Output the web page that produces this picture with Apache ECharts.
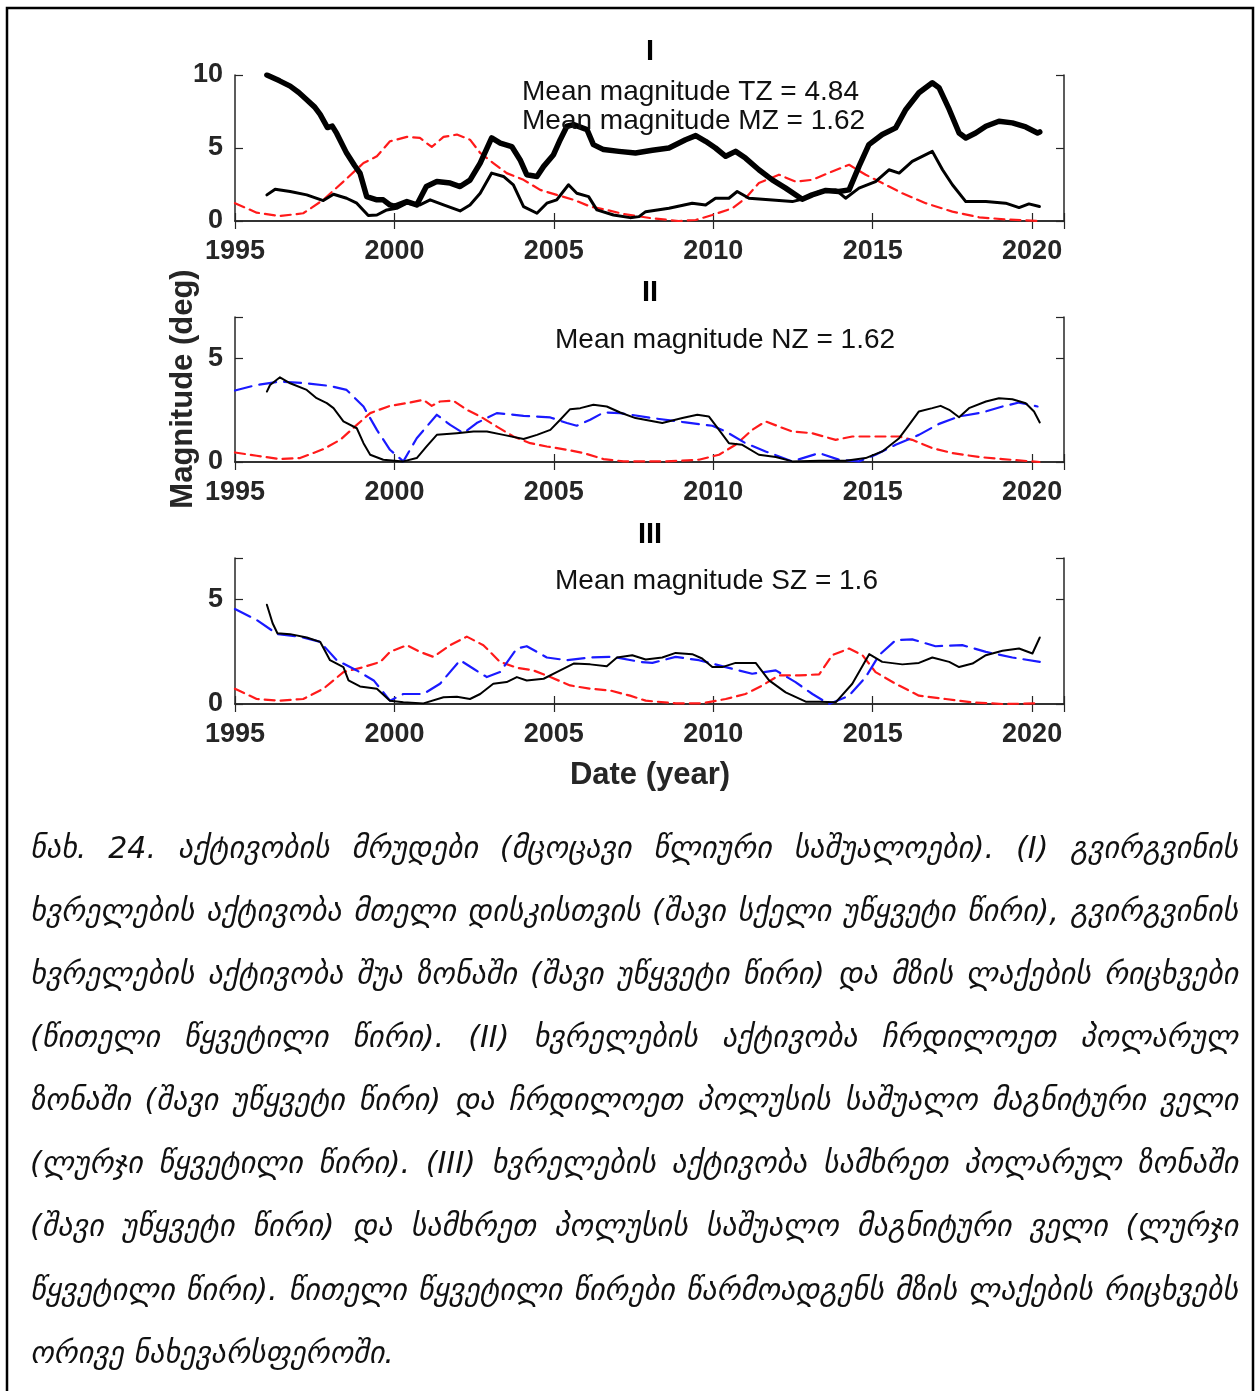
<!DOCTYPE html>
<html>
<head>
<meta charset="utf-8">
<script src="https://cdn.jsdelivr.net/npm/echarts@6/dist/echarts.min.js"></script>
<style>
html,body{margin:0;padding:0;background:#fff;}
#chart{width:1255px;height:1391px;}
</style>
</head>
<body>
<div id="chart"></div>
<script>
// ---------- DATA ----------
const xTicks = [1995, 2000, 2005, 2010, 2015, 2020];
const panelTitles = ['I', 'II', 'III'];

// Panel I: coronal hole activity, total disk (thick), middle zone (thin), sunspots (red dashed)
const p1_TZ = [[1996.0,10.0],[1996.4,9.6],[1996.73,9.24],[1997.0,8.8],[1997.25,8.3],[1997.5,7.8],[1997.67,7.3],[1997.9,6.4],[1998.05,6.5],[1998.19,6.0],[1998.5,4.65],[1998.75,3.8],[1998.92,3.28],[1999.13,1.67],[1999.45,1.45],[1999.65,1.45],[1999.86,1.1],[2000.0,1.0],[2000.39,1.33],[2000.7,1.1],[2001.0,2.36],[2001.33,2.7],[2001.75,2.6],[2002.06,2.36],[2002.37,2.8],[2002.69,3.97],[2003.05,5.69],[2003.32,5.34],[2003.68,5.1],[2003.94,4.2],[2004.15,3.17],[2004.47,3.05],[2004.68,3.74],[2004.99,4.54],[2005.2,5.57],[2005.41,6.49],[2005.62,6.6],[2006.04,6.26],[2006.24,5.23],[2006.56,4.89],[2007.04,4.77],[2007.56,4.66],[2008.09,4.84],[2008.61,5.0],[2009.13,5.57],[2009.45,5.85],[2009.76,5.46],[2010.07,5.0],[2010.39,4.43],[2010.7,4.77],[2011.01,4.31],[2011.43,3.51],[2011.85,2.82],[2012.27,2.25],[2012.79,1.49],[2013.1,1.79],[2013.53,2.09],[2013.94,2.02],[2014.26,2.13],[2014.57,3.74],[2014.88,5.23],[2015.3,5.92],[2015.72,6.38],[2016.04,7.64],[2016.45,8.78],[2016.87,9.47],[2017.08,9.13],[2017.4,7.64],[2017.71,6.03],[2017.92,5.69],[2018.23,6.03],[2018.55,6.49],[2018.96,6.83],[2019.38,6.72],[2019.8,6.44],[2020.17,6.03],[2020.24,6.1]];
const p1_MZ = [[1996.0,1.79],[1996.26,2.18],[1996.73,2.02],[1997.25,1.79],[1997.77,1.4],[1998.09,1.83],[1998.5,1.56],[1998.82,1.22],[1999.18,0.37],[1999.45,0.41],[1999.76,0.76],[2000.07,0.87],[2000.39,1.22],[2000.8,1.1],[2001.12,1.45],[2001.54,1.1],[2002.06,0.69],[2002.37,1.1],[2002.69,1.9],[2003.05,3.28],[2003.42,3.05],[2003.73,2.48],[2004.05,0.99],[2004.47,0.53],[2004.78,1.22],[2005.09,1.45],[2005.46,2.48],[2005.72,1.9],[2006.09,1.67],[2006.35,0.76],[2006.87,0.41],[2007.39,0.23],[2007.67,0.3],[2007.88,0.64],[2008.61,0.87],[2009.34,1.22],[2009.76,1.1],[2010.07,1.56],[2010.49,1.56],[2010.75,2.02],[2011.12,1.56],[2011.75,1.45],[2012.48,1.33],[2012.9,1.56],[2013.32,2.02],[2013.84,2.13],[2014.15,1.56],[2014.57,2.25],[2015.09,2.7],[2015.51,3.51],[2015.83,3.28],[2016.24,4.08],[2016.87,4.77],[2017.19,3.51],[2017.5,2.48],[2017.92,1.33],[2018.55,1.33],[2019.17,1.22],[2019.59,0.92],[2019.9,1.17],[2020.23,0.99]];
const p1_SS = [[1995.0,1.22],[1995.68,0.57],[1996.41,0.34],[1997.14,0.53],[1997.77,1.45],[1998.4,2.7],[1999.03,3.97],[1999.45,4.43],[1999.86,5.46],[2000.39,5.76],[2000.8,5.69],[2001.17,5.07],[2001.54,5.76],[2001.96,5.92],[2002.37,5.57],[2002.69,4.66],[2003.1,3.97],[2003.52,3.28],[2004.05,2.82],[2004.57,2.13],[2005.09,1.79],[2005.62,1.45],[2006.14,0.99],[2006.66,0.76],[2007.19,0.48],[2008.09,0.18],[2008.92,0.0],[2009.45,0.07],[2009.97,0.41],[2010.6,0.87],[2011.01,1.56],[2011.43,2.6],[2012.06,3.17],[2012.58,2.7],[2013.1,2.82],[2013.73,3.39],[2014.26,3.85],[2014.78,3.17],[2015.3,2.6],[2015.93,1.9],[2016.66,1.22],[2017.5,0.64],[2018.34,0.25],[2019.17,0.11],[2020.23,0.0]];

// Panel II: north polar zone activity (black), north pole field (blue dashed), sunspots (red dashed)
const p2_NZ = [[1996.0,3.4],[1996.1,3.72],[1996.41,4.09],[1996.73,3.8],[1997.25,3.48],[1997.56,3.08],[1997.88,2.84],[1998.09,2.6],[1998.4,1.96],[1998.82,1.63],[1999.03,0.91],[1999.24,0.35],[1999.65,0.11],[2000.28,0.03],[2000.7,0.19],[2001.01,0.75],[2001.33,1.31],[2001.96,1.39],[2002.48,1.47],[2002.9,1.47],[2003.42,1.31],[2004.05,1.11],[2004.47,1.31],[2004.89,1.55],[2005.2,2.04],[2005.51,2.55],[2005.83,2.6],[2006.24,2.76],[2006.66,2.68],[2007.08,2.39],[2007.56,2.12],[2008.4,1.88],[2009.03,2.12],[2009.5,2.28],[2009.86,2.2],[2010.18,1.55],[2010.49,0.91],[2010.91,0.83],[2011.43,0.35],[2011.96,0.24],[2012.48,0.03],[2013.32,0.06],[2014.15,0.06],[2014.78,0.19],[2015.3,0.51],[2015.83,1.15],[2016.14,1.79],[2016.45,2.44],[2016.87,2.6],[2017.13,2.71],[2017.4,2.52],[2017.71,2.16],[2018.02,2.6],[2018.55,2.92],[2018.96,3.08],[2019.38,3.03],[2019.8,2.84],[2020.06,2.44],[2020.24,1.91]];
const p2_BN = [[1995.0,3.45],[1995.68,3.72],[1996.41,3.88],[1997.25,3.8],[1997.98,3.67],[1998.5,3.48],[1999.03,2.68],[1999.45,1.55],[1999.86,0.59],[2000.28,0.03],[2000.7,1.15],[2001.33,2.28],[2001.75,1.79],[2002.17,1.39],[2002.58,1.88],[2003.21,2.36],[2004.05,2.23],[2004.89,2.15],[2005.41,1.88],[2005.72,1.75],[2006.14,2.04],[2006.56,2.39],[2007.08,2.36],[2008.09,2.12],[2009.13,1.91],[2009.97,1.75],[2010.39,1.47],[2011.01,0.91],[2011.64,0.51],[2012.48,0.03],[2013.32,0.43],[2013.94,0.11],[2014.57,0.03],[2015.09,0.35],[2015.72,0.83],[2016.45,1.31],[2017.08,1.84],[2017.71,2.2],[2018.44,2.39],[2019.07,2.68],[2019.59,2.87],[2020.17,2.68]];
const p2_SS = [[1995.0,0.46],[1995.68,0.3],[1996.41,0.14],[1997.04,0.19],[1997.77,0.62],[1998.3,1.07],[1998.82,1.79],[1999.24,2.36],[1999.86,2.71],[2000.49,2.87],[2000.91,3.0],[2001.17,2.71],[2001.43,2.92],[2001.85,2.96],[2002.27,2.52],[2002.69,2.2],[2003.21,1.71],[2003.73,1.23],[2004.26,0.91],[2004.78,0.75],[2005.41,0.59],[2005.93,0.43],[2006.56,0.14],[2007.19,0.03],[2008.5,0.03],[2009.55,0.11],[2010.18,0.35],[2010.7,0.83],[2011.22,1.55],[2011.64,1.96],[2012.06,1.71],[2012.48,1.47],[2013.1,1.39],[2013.84,1.07],[2014.36,1.23],[2014.99,1.23],[2015.83,1.23],[2016.24,1.07],[2016.87,0.67],[2017.5,0.43],[2018.34,0.24],[2019.07,0.14],[2020.23,0.0]];

// Panel III: south polar zone activity (black), south pole field (blue dashed), sunspots (red dashed)
const p3_SZ = [[1996.0,4.76],[1996.18,3.87],[1996.33,3.39],[1996.73,3.35],[1997.25,3.19],[1997.67,2.98],[1997.98,2.1],[1998.4,1.77],[1998.56,1.13],[1998.92,0.84],[1999.45,0.73],[1999.86,0.16],[2000.28,0.08],[2000.91,0.03],[2001.54,0.32],[2001.96,0.35],[2002.37,0.24],[2002.69,0.48],[2003.1,0.97],[2003.52,1.05],[2003.84,1.29],[2004.15,1.13],[2004.68,1.21],[2005.09,1.53],[2005.62,1.94],[2006.14,1.9],[2006.66,1.81],[2006.98,2.23],[2007.46,2.34],[2007.88,2.13],[2008.4,2.23],[2008.82,2.45],[2009.34,2.39],[2009.65,2.18],[2009.97,1.77],[2010.28,1.77],[2010.7,1.97],[2011.33,1.97],[2011.75,1.13],[2012.27,0.56],[2012.9,0.11],[2013.32,0.11],[2013.84,0.08],[2014.36,0.97],[2014.89,2.39],[2015.3,2.02],[2015.93,1.9],[2016.45,1.97],[2016.87,2.23],[2017.4,2.02],[2017.71,1.77],[2018.13,1.94],[2018.55,2.34],[2019.07,2.55],[2019.59,2.66],[2020.01,2.42],[2020.24,3.19]];
const p3_BS = [[1995.0,4.55],[1995.68,4.03],[1996.33,3.35],[1997.04,3.23],[1997.67,2.98],[1998.19,2.1],[1998.82,1.61],[1999.35,1.13],[1999.86,0.16],[2000.28,0.48],[2000.91,0.48],[2001.43,0.97],[2002.06,2.1],[2002.48,1.69],[2002.9,1.29],[2003.31,1.53],[2003.84,2.66],[2004.15,2.77],[2004.78,2.23],[2005.41,2.1],[2006.14,2.23],[2006.87,2.26],[2007.7,2.02],[2008.09,1.97],[2008.82,2.26],[2009.55,2.1],[2010.39,1.77],[2011.22,1.45],[2011.96,1.61],[2012.58,1.05],[2013.11,0.48],[2013.63,0.0],[2014.26,0.4],[2014.78,1.29],[2015.2,2.34],[2015.72,3.06],[2016.24,3.1],[2016.97,2.77],[2017.81,2.82],[2018.55,2.5],[2019.38,2.23],[2020.24,2.02]];
const p3_SS = [[1995.0,0.73],[1995.68,0.24],[1996.41,0.16],[1997.14,0.24],[1997.77,0.73],[1998.4,1.53],[1999.03,1.77],[1999.56,2.02],[1999.86,2.5],[2000.39,2.82],[2000.8,2.5],[2001.22,2.26],[2001.75,2.82],[2002.27,3.23],[2002.79,2.82],[2003.31,2.02],[2003.84,1.74],[2004.36,1.61],[2004.89,1.29],[2005.51,0.89],[2006.14,0.73],[2006.76,0.65],[2007.39,0.4],[2007.88,0.16],[2008.82,0.03],[2009.65,0.03],[2010.39,0.24],[2011.01,0.48],[2011.54,0.89],[2012.06,1.37],[2012.69,1.37],[2013.32,1.42],[2013.73,2.34],[2014.26,2.66],[2014.68,2.34],[2015.09,1.53],[2015.72,0.97],[2016.45,0.4],[2017.29,0.24],[2018.13,0.08],[2019.07,0.0],[2020.23,0.03]];

const meanLabels = [['Mean magnitude TZ = 4.84', 'Mean magnitude MZ = 1.62'], ['Mean magnitude NZ = 1.62'], ['Mean magnitude SZ = 1.6']];
const yMax = [10, 7, 7];
const yLabel = 'Magnitude (deg)';
const xLabel = 'Date (year)';

const captionLines = [
  'ნახ. 24. აქტივობის მრუდები (მცოცავი წლიური საშუალოები). (I) გვირგვინის',
  'ხვრელების აქტივობა მთელი დისკისთვის (შავი სქელი უწყვეტი წირი), გვირგვინის',
  'ხვრელების აქტივობა შუა ზონაში (შავი უწყვეტი წირი) და მზის ლაქების რიცხვები',
  '(წითელი წყვეტილი წირი). (II) ხვრელების აქტივობა ჩრდილოეთ პოლარულ',
  'ზონაში (შავი უწყვეტი წირი) და ჩრდილოეთ პოლუსის საშუალო მაგნიტური ველი',
  '(ლურჯი წყვეტილი წირი). (III) ხვრელების აქტივობა სამხრეთ პოლარულ ზონაში',
  '(შავი უწყვეტი წირი) და სამხრეთ პოლუსის საშუალო მაგნიტური ველი (ლურჯი',
  'წყვეტილი წირი). წითელი წყვეტილი წირები წარმოადგენს მზის ლაქების რიცხვებს',
  'ორივე ნახევარსფეროში.'
];

// ---------- LAYOUT ----------
const FONT = '"Liberation Sans", Arial, Helvetica, sans-serif';
const AX = '#262626';
const grids = [
  {left: 235, top: 75, width: 829, height: 146},
  {left: 235, top: 317, width: 829, height: 145},
  {left: 235, top: 558, width: 829, height: 146}
];
const titleY = [52, 293, 535];
const meanPos = [[522, [92, 121]], [555, [340]], [555, [581]]];

const xAxes = [], yAxes = [];
grids.forEach((g, i) => {
  const base = {type: 'value', gridIndex: i, min: 1995, max: 2021, interval: 5,
    splitLine: {show: false},
    axisLine: {show: true, lineStyle: {color: AX, width: 1.5}},
    axisTick: {show: true, inside: true, length: 8, lineStyle: {color: AX, width: 1.2}}};
  xAxes.push(Object.assign({}, base, {position: 'bottom',
    axisLabel: {show: true, margin: 17, fontSize: 27, fontWeight: 'bold', color: AX, fontFamily: FONT,
      formatter: v => xTicks.indexOf(v) >= 0 ? String(v) : ''}}));
  xAxes.push(Object.assign({}, base, {position: 'top', axisLabel: {show: false}}));
  const yb = {type: 'value', gridIndex: i, min: 0, max: yMax[i], interval: 5,
    splitLine: {show: false},
    axisLine: {show: true, lineStyle: {color: AX, width: 1.5}},
    axisTick: {show: true, inside: true, length: 8, lineStyle: {color: AX, width: 1.2}}};
  yAxes.push(Object.assign({}, yb, {position: 'left',
    axisLabel: {show: true, margin: 12, fontSize: 27, fontWeight: 'bold', color: AX, fontFamily: FONT,
      formatter: v => (v % 5 === 0) ? String(v) : ''}}));
  yAxes.push(Object.assign({}, yb, {position: 'right', axisLabel: {show: false}}));
});

function line(data, gi, color, width, dash, z) {
  return {type: 'line', xAxisIndex: gi * 2, yAxisIndex: gi * 2, data: data,
    showSymbol: false, symbol: 'none', smooth: false, z: z || 2, animation: false,
    lineStyle: {color: color, width: width, type: dash || 'solid', cap: 'round', join: 'round'}};
}
const RED = '#ff1a1a', BLUE = '#1a1aff';
const series = [
  line(p1_SS, 0, RED, 2.2, [10, 6], 2),
  line(p1_MZ, 0, '#000', 3, null, 3),
  line(p1_TZ, 0, '#000', 5.5, null, 4),
  line(p2_SS, 1, RED, 2.2, [10, 6], 2),
  line(p2_BN, 1, BLUE, 2.2, [17, 8], 2),
  line(p2_NZ, 1, '#000', 2, null, 3),
  line(p3_SS, 2, RED, 2.2, [10, 6], 2),
  line(p3_BS, 2, BLUE, 2.2, [17, 8], 2),
  line(p3_SZ, 2, '#000', 2, null, 3)
];

// ---------- TEXT GRAPHICS ----------
const graphics = [];
// outer frame (left, top, right)
graphics.push({type: 'polyline', shape: {points: [[7, 1391], [7, 8], [1253, 8], [1253, 1391]]},
  style: {stroke: '#000', lineWidth: 2.5, fill: null}, silent: true});
panelTitles.forEach((t, i) => graphics.push({type: 'text', x: 650, y: titleY[i],
  style: {text: t, font: 'bold 29px ' + FONT, fill: '#000', textAlign: 'center', textVerticalAlign: 'middle'}}));
meanLabels.forEach((arr, i) => arr.forEach((t, j) => graphics.push({type: 'text', x: meanPos[i][0], y: meanPos[i][1][j], z: 10,
  style: {text: t, font: '28px ' + FONT, fill: '#111', textAlign: 'left', textVerticalAlign: 'middle'}})));
graphics.push({type: 'text', x: 183, y: 389, rotation: Math.PI / 2,
  style: {text: yLabel, font: 'bold 31px ' + FONT, fill: AX, textAlign: 'center', textVerticalAlign: 'middle'}});
graphics.push({type: 'text', x: 650, y: 775,
  style: {text: xLabel, font: 'bold 31px ' + FONT, fill: AX, textAlign: 'center', textVerticalAlign: 'middle'}});

// caption, justified
const CAP_FONT_FAMILY = '"DejaVu Sans", "Noto Sans", sans-serif';
const capLeft = 30, capRight = 1238, capTop = 850, capStep = 63.1;
const cv = document.createElement('canvas').getContext('2d');
let fs = 31;
function natWidth(s, f) { cv.font = 'italic ' + f + 'px ' + CAP_FONT_FAMILY; return cv.measureText(s).width; }
let maxW = 0;
captionLines.slice(0, -1).forEach(s => { maxW = Math.max(maxW, natWidth(s, fs)); });
if (maxW > (capRight - capLeft) * 0.99) fs = fs * (capRight - capLeft) * 0.99 / maxW;
cv.font = 'italic ' + fs + 'px ' + CAP_FONT_FAMILY;
captionLines.forEach((s, li) => {
  const words = s.split(' ');
  const ws = words.map(w => cv.measureText(w).width);
  const total = ws.reduce((a, b) => a + b, 0);
  const last = li === captionLines.length - 1;
  const gap = last ? cv.measureText(' ').width : (capRight - capLeft - total) / (words.length - 1);
  let x = capLeft;
  words.forEach((w, k) => {
    graphics.push({type: 'text', x: x, y: capTop + li * capStep,
      style: {text: w, font: 'italic ' + fs + 'px ' + CAP_FONT_FAMILY, fill: '#111', textAlign: 'left', textVerticalAlign: 'middle'}});
    x += ws[k] + gap;
  });
});

const chart = echarts.init(document.getElementById('chart'), null, {renderer: 'canvas'});
chart.setOption({
  backgroundColor: '#fff',
  animation: false,
  grid: grids,
  xAxis: xAxes,
  yAxis: yAxes,
  series: series,
  graphic: graphics
});
</script>
</body>
</html>
